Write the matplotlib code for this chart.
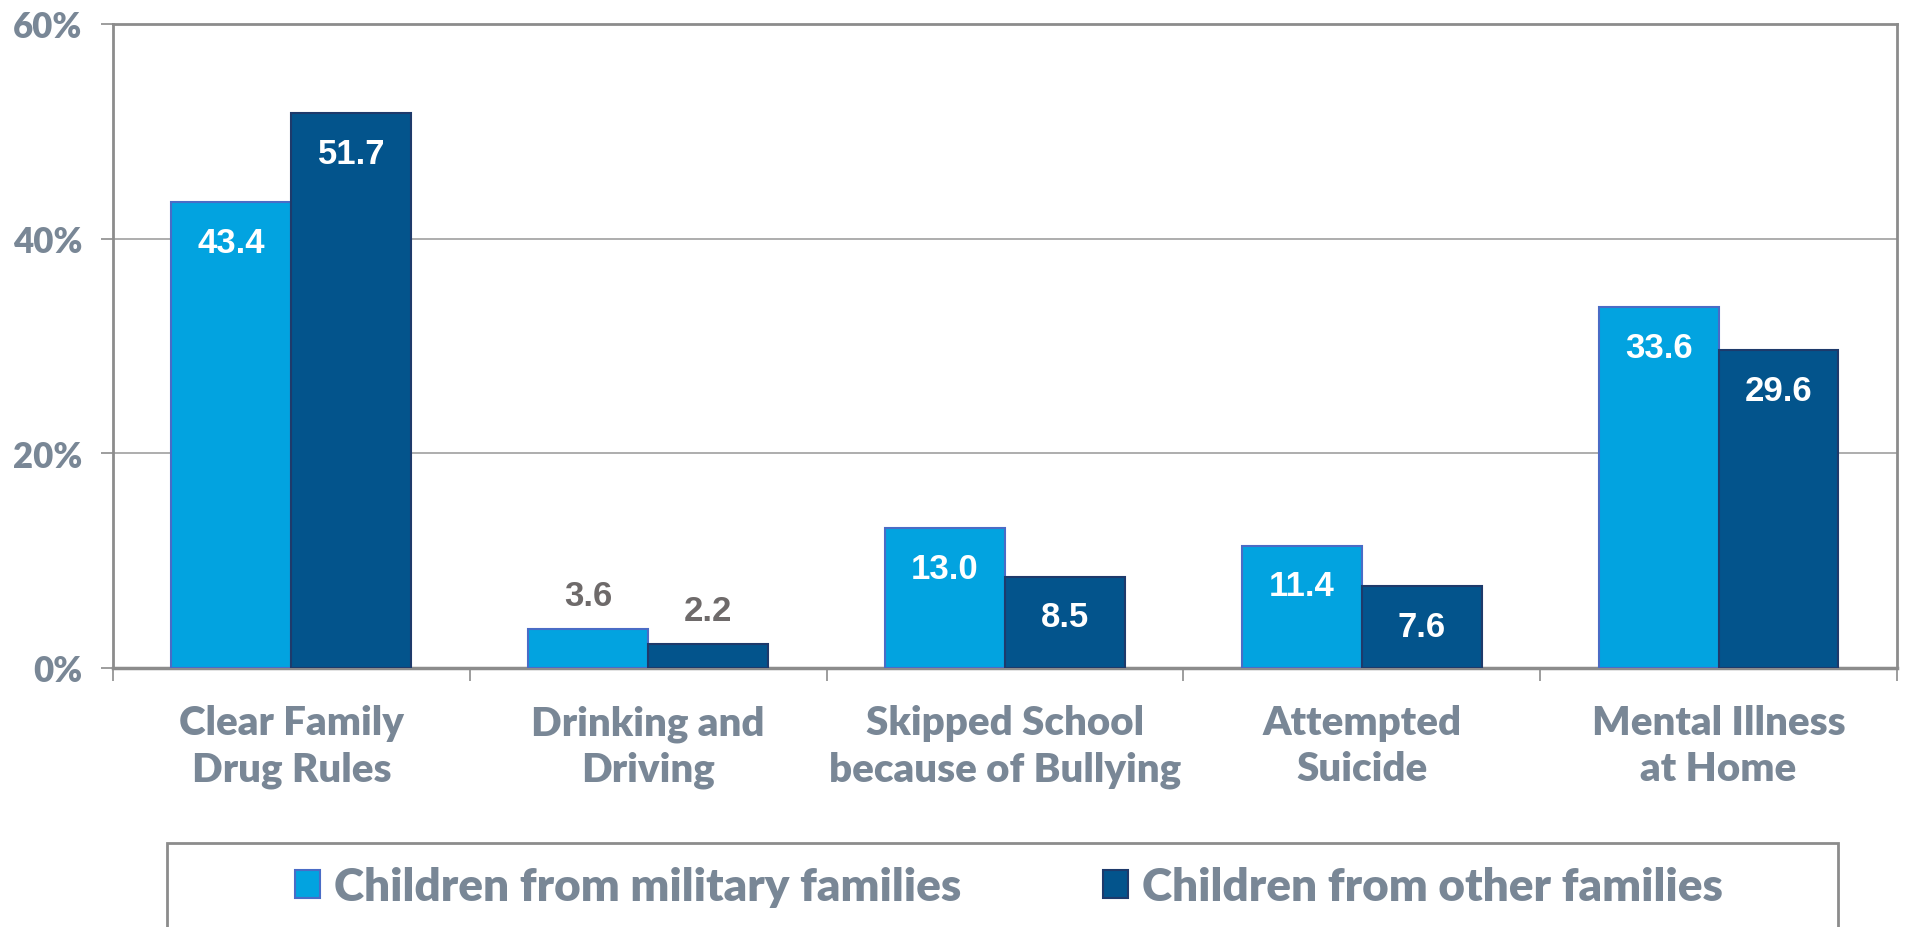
import matplotlib
matplotlib.use("Agg")
import matplotlib.pyplot as plt
from matplotlib.patches import Rectangle
import numpy as np

categories = ["Clear Family\nDrug Rules", "Drinking and\nDriving", "Skipped School\nbecause of Bullying",
              "Attempted\nSuicide", "Mental Illness\nat Home"]
military = [43.4, 3.6, 13.0, 11.4, 33.6]
other = [51.7, 2.2, 8.5, 7.6, 29.6]
series_names = ["Children from military families", "Children from other families"]

light, light_edge = "#02a3e0", "#4a6cc6"
dark, dark_edge = "#03548c", "#1e3a6b"
grey_txt = "#798796"
axis_grey = "#8c8c8c"

fig = plt.figure(figsize=(19.05, 9.28), dpi=100)
ax = fig.add_axes([0.0593, 0.2791, 0.9365, 0.694])

x = np.arange(len(categories))
w = 0.336
b1 = ax.bar(x - w / 2, military, w, color=light, edgecolor=light_edge, linewidth=1.5, label=series_names[0], zorder=3)
b2 = ax.bar(x + w / 2, other, w, color=dark, edgecolor=dark_edge, linewidth=1.5, label=series_names[1], zorder=3)

for bars, vals in [(b1, military), (b2, other)]:
    for rect, v in zip(bars, vals):
        cx = rect.get_x() + rect.get_width() / 2
        if v > 6:
            ax.annotate(f"{v:.1f}", (cx, v), xytext=(0, -40), textcoords="offset pixels",
                        ha="center", va="center", color="white", fontsize=25,
                        fontweight="bold", family="Liberation Sans", zorder=4)
        else:
            ax.annotate(f"{v:.1f}", (cx, v), xytext=(0, 34), textcoords="offset pixels",
                        ha="center", va="center", color="#6e6a6a", fontsize=25,
                        fontweight="bold", family="Liberation Sans", zorder=4)

ax.set_xlim(-0.5, 4.5)
ax.set_ylim(0, 60)
ax.set_yticks([0, 20, 40, 60])
ax.set_yticklabels(["0%", "20%", "40%", "60%"], fontsize=25, fontweight="heavy", family="Lato", color=grey_txt)
ax.yaxis.grid(True, color="#a0a0a0", linewidth=1.2, zorder=0)

ax.set_xticks(np.arange(-0.5, 5, 1))
ax.set_xticklabels([])
ax.set_xticks(x, minor=True)
ax.set_xticklabels(categories, minor=True, fontsize=29, fontweight="heavy", family="Lato",
                   color=grey_txt, linespacing=1.3)
ax.tick_params(axis="x", which="minor", length=0, pad=26)
ax.tick_params(axis="x", which="major", length=9, width=1.2, color=axis_grey, direction="out")
ax.tick_params(axis="y", length=9, width=1.2, color=axis_grey, pad=13)

for s in ["left", "top", "right"]:
    ax.spines[s].set_color(axis_grey)
    ax.spines[s].set_linewidth(2)
ax.spines["bottom"].set_color(axis_grey)
ax.spines["bottom"].set_linewidth(2.5)

# legend frame running off the bottom of the figure
fig.patches.append(Rectangle((167 / 1905, -0.05), 1671 / 1905, 0.05 + (928 - 844) / 928,
                             transform=fig.transFigure, fill=False, edgecolor=axis_grey, linewidth=2))
fig.legend(handles=[b1, b2], labels=series_names, loc="center", bbox_to_anchor=(1009 / 1905, 1 - 888 / 928),
           ncol=2, frameon=False, prop={"family": "Lato", "weight": "heavy", "size": 33},
           labelcolor=grey_txt, handlelength=0.55, handleheight=0.55, handletextpad=0.3, columnspacing=3.1)

fig.savefig("out.png", dpi=100)
